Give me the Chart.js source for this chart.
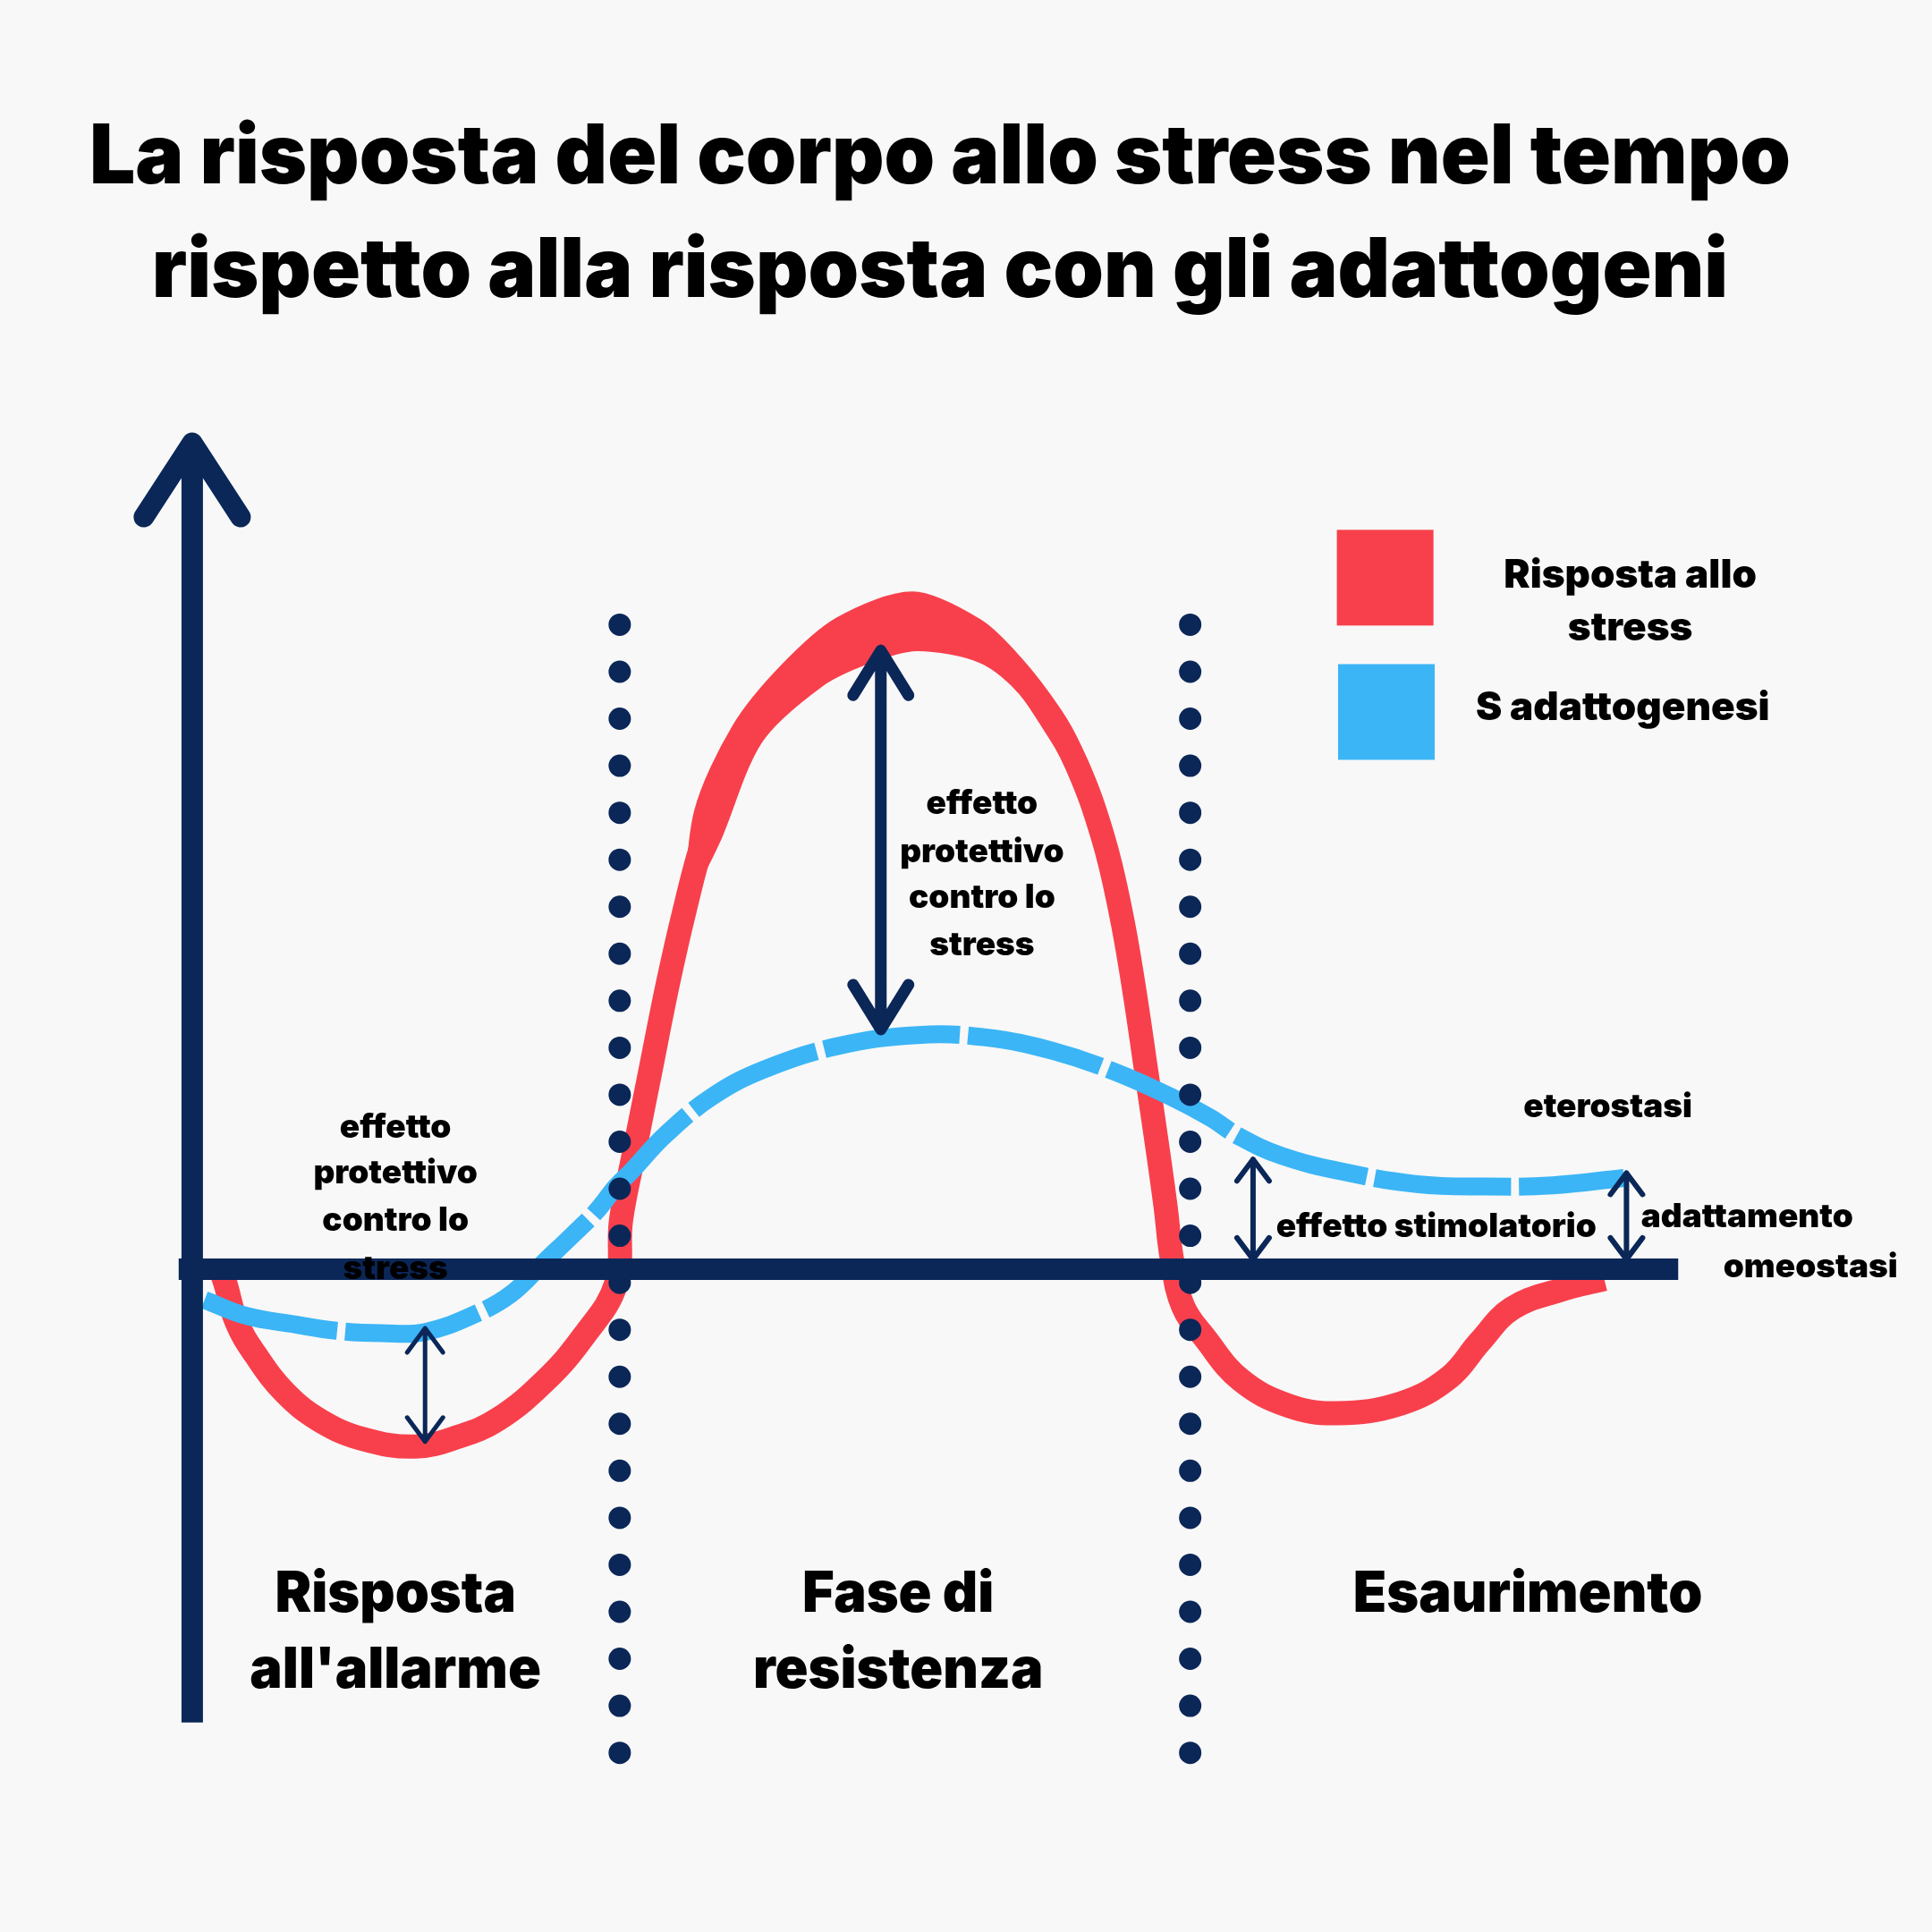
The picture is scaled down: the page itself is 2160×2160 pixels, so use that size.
<!DOCTYPE html>
<html lang="it">
<head>
<meta charset="utf-8">
<title>La risposta del corpo allo stress nel tempo</title>
<script src="https://cdn.jsdelivr.net/npm/chart.js@4.4.0/dist/chart.umd.min.js"></script>
<style>
  html, body { margin: 0; padding: 0; background: #f8f8f8; }
  canvas { display: block; }
</style>
</head>
<body>
<canvas id="grafico" width="2160" height="2160"></canvas>
<script>
// tempo: 0 = asse verticale, 100 = fine dell'asse orizzontale
// livello: 0 = omeostasi, 100 = picco della risposta allo stress

// risposta allo stress (linea rossa)
const rispostaX = [1.99, 2.24, 2.99, 4.23, 6.22, 8.62, 11.53, 15.01, 17.91, 20.56, 23.80, 26.37, 28.52, 28.86, 29.73, 30.82, 31.98,
    33.11, 34.45, 36.45, 38.64, 40.96, 44.44, 48.59, 53.07, 55.72, 57.71, 59.50, 61.30, 62.48, 63.35, 64.21, 65.01,
    65.51, 65.92, 66.67, 68.16, 70.56, 73.80, 77.03, 81.34, 84.58, 86.65, 88.81, 92.04, 95.02];
const rispostaY = [-0.57, -2.28, -8.17, -13.12, -19.01, -23.38, -26.24, -27.38, -25.86, -23.19, -17.11, -10.27, -2.28, 7.60, 17.87, 30.42, 43.73,
    55.13, 66.54, 77.95, 85.93, 91.44, 96.96, 100.00, 96.96, 91.44, 85.17, 77.95, 66.54, 55.13, 43.73, 30.42, 17.87,
    9.51, 1.71, -5.70, -10.65, -17.11, -21.10, -22.24, -20.72, -16.73, -11.22, -6.08, -3.23, -1.52];

// il tratto rosso si allarga vicino al picco: bordo esterno e interno
const piccoEsternoX = [33.11, 33.85, 36.40, 39.63, 43.38, 48.49, 53.06, 55.75, 58.43, 59.78, 61.13, 62.48];
const piccoEsternoY = [55.13, 70.82, 83.76, 93.00, 100.40, 104.41, 100.08, 94.24, 86.24, 80.68, 72.68, 55.13];
const piccoInternoX = [33.11, 35.46, 38.28, 42.31, 45.52, 48.76, 53.06, 55.75, 58.43, 59.78, 61.13, 62.48];
const piccoInternoY = [55.13, 65.89, 81.29, 89.92, 93.54, 95.48, 93.63, 88.69, 79.45, 73.29, 62.21, 55.13];

// risposta con adattogeni (linea azzurra tratteggiata)
const adattoX = [0.83, 3.65, 6.97, 9.70, 12.77, 15.67, 19.15, 21.48, 23.71, 25.62, 27.20, 28.52, 29.52, 31.84, 34.99,
    38.47, 43.45, 48.84, 53.40, 57.96, 62.11, 65.84, 68.49, 70.40, 73.30, 77.45, 82.42, 86.98, 91.54, 96.35];
const adattoY = [-4.75, -7.22, -8.56, -9.51, -9.89, -9.70, -6.84, -3.80, 1.14, 5.32, 8.94, 12.74, 15.02, 20.72, 26.62,
    30.80, 34.41, 36.12, 35.74, 33.65, 30.42, 26.62, 23.38, 20.53, 17.49, 15.02, 13.12, 12.74, 12.93, 14.07];

// confini tra le fasi (linee a puntini)
const fasiX = [28.77, 67.16];
const fasiAlto = 99.43;
const fasiBasso = -75.2;
const fasi = ['Risposta\nall\'allarme', 'Fase di\nresistenza', 'Esaurimento'];

// frecce doppie
const frecceX = [15.67, 46.34, 71.39, 96.52];
const frecceAlto = [-9.13, 95.44, 16.92, 14.83];
const frecceBasso = [-26.62, 36.98, 1.52, 1.52];

const serie = ['Risposta allo\nstress', 'S adattogenesi'];

const ROSSO = '#f8404c';
const AZZURRO = '#3bb5f6';
const BLU = '#0b2758';
const FONT = 'Inter, Roboto, "Noto Sans", sans-serif';

const punti = (xs, ys) => xs.map((x, i) => ({ x: x, y: ys[i] }));

function testo(ctx, str, x, y, size, weight, sx) {
    ctx.save();
    ctx.font = weight + ' ' + size + 'px ' + FONT;
    ctx.fillStyle = '#000';
    ctx.textAlign = 'center';
    ctx.textBaseline = 'alphabetic';
    ctx.translate(x, y);
    ctx.scale(sx || 1, 1);
    ctx.fillText(str, 0, 0);
    ctx.restore();
}

function freccia(ctx, x, y1, y2, w, ali, lung) {
    ctx.save();
    ctx.strokeStyle = BLU;
    ctx.lineWidth = w;
    ctx.lineCap = 'round';
    ctx.lineJoin = 'round';
    ctx.beginPath();
    ctx.moveTo(x, y1);
    ctx.lineTo(x, y2);
    ctx.moveTo(x - ali, y1 + lung);
    ctx.lineTo(x, y1);
    ctx.lineTo(x + ali, y1 + lung);
    ctx.moveTo(x - ali, y2 - lung);
    ctx.lineTo(x, y2);
    ctx.lineTo(x + ali, y2 - lung);
    ctx.stroke();
    ctx.restore();
}

const disegno = {
    id: 'disegno',
    beforeDraw(chart) {
        const ctx = chart.ctx;
        ctx.save();
        ctx.fillStyle = '#f8f8f8';
        ctx.fillRect(0, 0, chart.width, chart.height);
        ctx.restore();
    },
    afterDatasetsDraw(chart) {
        const ctx = chart.ctx;
        const sx = chart.scales.x, sy = chart.scales.y;
        const px = v => sx.getPixelForValue(v);
        const py = v => sy.getPixelForValue(v);

        // assi
        ctx.save();
        ctx.strokeStyle = BLU;
        ctx.lineWidth = 24;
        ctx.lineCap = 'butt';
        ctx.beginPath();
        ctx.moveTo(px(-0.91), py(0));
        ctx.lineTo(px(100), py(0));
        ctx.moveTo(px(0), py(-69.96));
        ctx.lineTo(px(0), py(127.5));
        ctx.stroke();
        ctx.lineCap = 'round';
        ctx.lineJoin = 'round';
        ctx.lineWidth = 23;
        ctx.beginPath();
        ctx.moveTo(px(0) - 54, py(127.5) + 83);
        ctx.lineTo(px(0), py(127.5));
        ctx.lineTo(px(0) + 54, py(127.5) + 83);
        ctx.stroke();
        ctx.restore();

        const spessori = [5, 13, 6, 6];
        const ali = [20, 31, 18, 18];
        const lung = [27, 50, 24, 24];
        frecceX.forEach((x, i) => {
            freccia(ctx, px(x), py(frecceAlto[i]), py(frecceBasso[i]), spessori[i], ali[i], lung[i]);
        });
    },
    afterDraw(chart) {
        const ctx = chart.ctx;
        const sx = chart.scales.x, sy = chart.scales.y;
        const px = v => sx.getPixelForValue(v);
        const py = v => sy.getPixelForValue(v);

        // titolo
        const t1 = 'La risposta del corpo allo stress nel tempo';
        const t2 = 'rispetto alla risposta con gli adattogeni';
        ctx.font = '900 92px ' + FONT;
        const k = 1902 / ctx.measureText(t1).width;
        testo(ctx, t1, 1051, 205, 92, 900, k);
        testo(ctx, t2, 1051, 332, 92, 900, k);

        // legenda
        const colori = [ROSSO, AZZURRO];
        const quadrati = [[77.03, 114.07], [77.11, 93.35]];
        quadrati.forEach((q, i) => {
            ctx.fillStyle = colori[i];
            ctx.fillRect(px(q[0]), py(q[1]), 108, 107);
        });
        const righe1 = serie[0].split('\n');
        testo(ctx, righe1[0], px(96.77), py(105.13), 44, 900);
        testo(ctx, righe1[1], px(96.77), py(96.96), 44, 900);
        testo(ctx, serie[1], px(96.27), py(84.79), 44, 900);

        // note
        const note = [
            ['effetto', 13.68, 20.34], ['protettivo', 13.68, 13.21], ['contro lo', 13.68, 5.89], ['stress', 13.68, -1.52],
            ['effetto', 53.15, 70.23], ['protettivo', 53.15, 62.81], ['contro lo', 53.15, 55.70], ['stress', 53.15, 48.48],
            ['eterostasi', 95.27, 23.46], ['effetto stimolatorio', 83.72, 4.94],
            ['adattamento', 104.64, 6.52], ['omeostasi', 108.91, -1.25]
        ];
        note.forEach(n => testo(ctx, n[0], px(n[1]), py(n[2]), 37, 900));

        // nomi delle fasi
        const centriFasi = [13.68, 47.51, 89.88];
        fasi.forEach((f, i) => {
            f.split('\n').forEach((r, j) => {
                testo(ctx, r, px(centriFasi[i]), py(-52.85 - j * 11.79), 63, 900, 0.97);
            });
        });
    }
};

function puntini(x) {
    return {
        data: [{ x: x, y: fasiAlto }, { x: x, y: fasiBasso }],
        borderColor: BLU,
        borderWidth: 25,
        borderCapStyle: 'round',
        borderDash: [0, 52.55],
        tension: 0,
        pointRadius: 0,
        fill: false
    };
}

function crea() {
    new Chart(document.getElementById('grafico'), {
        type: 'line',
        data: {
            datasets: [
                puntini(fasiX[0]),
                puntini(fasiX[1]),
                {
                    label: serie[1],
                    data: punti(adattoX, adattoY),
                    borderColor: AZZURRO,
                    borderWidth: 20,
                    borderDash: [153, 9],
                    borderCapStyle: 'butt',
                    tension: 0.4,
                    pointRadius: 0,
                    fill: false
                },
                {
                    label: serie[0],
                    data: punti(rispostaX, rispostaY),
                    borderColor: ROSSO,
                    borderWidth: 27,
                    borderCapStyle: 'butt',
                    borderJoinStyle: 'round',
                    tension: 0.4,
                    pointRadius: 0,
                    fill: false
                },
                {
                    data: punti(piccoEsternoX, piccoEsternoY),
                    borderColor: ROSSO,
                    backgroundColor: ROSSO,
                    borderWidth: 2,
                    tension: 0.3,
                    pointRadius: 0,
                    fill: '+1'
                },
                {
                    data: punti(piccoInternoX, piccoInternoY),
                    borderColor: ROSSO,
                    borderWidth: 2,
                    tension: 0.3,
                    pointRadius: 0,
                    fill: false
                }
            ]
        },
        options: {
            responsive: false,
            devicePixelRatio: 1,
            animation: false,
            layout: { padding: 0 },
            scales: {
                x: { type: 'linear', min: -12.935, max: 117.08, display: false },
                y: { type: 'linear', min: -102.28, max: 195.82, display: false }
            },
            plugins: {
                legend: { display: false },
                tooltip: { enabled: false },
                title: { display: false }
            }
        },
        plugins: [disegno]
    });
}

Promise.all([
    document.fonts.load('900 92px Inter'),
    document.fonts.load('900 37px Inter')
]).then(crea, crea);
</script>
</body>
</html>
